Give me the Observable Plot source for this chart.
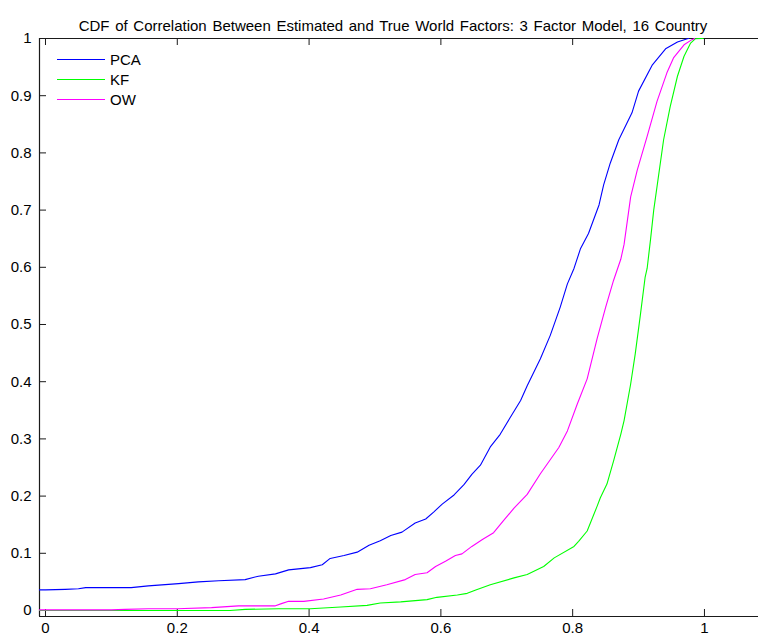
<!DOCTYPE html>
<html>
<head>
<meta charset="utf-8">
<script src="https://cdn.jsdelivr.net/npm/d3@7"></script>
<script src="https://cdn.jsdelivr.net/npm/@observablehq/plot@0.6"></script>
<style>
  body { margin: 0; background: #fff; }
  svg { display: block; }
</style>
</head>
<body>
<div id="chart"></div>
<script>
// Empirical CDFs of the correlation between estimated and true world factors
const titleText = "CDF of Correlation Between Estimated and True World Factors: 3 Factor Model, 16 Country";

const seriesNames = ["PCA", "KF", "OW"];
const seriesColors = ["#0000ff", "#00ff00", "#ff00ff"];

const xTicks = [0, 0.2, 0.4, 0.6, 0.8, 1];
const yTicks = [0, 0.1, 0.2, 0.3, 0.4, 0.5, 0.6, 0.7, 0.8, 0.9, 1];
const xDomain = [-0.0091, 1.082];
const yDomain = [-0.0105, 1];

// PCA
const pcaX = [-0.01, 0, 0.03, 0.05, 0.061, 0.13, 0.156, 0.202, 0.232, 0.263, 0.303, 0.323, 0.349, 0.369,
  0.402, 0.42, 0.432, 0.453, 0.473, 0.491, 0.508, 0.524, 0.541, 0.561, 0.577, 0.589, 0.602, 0.62,
  0.635, 0.647, 0.66, 0.675, 0.69, 0.705, 0.721, 0.731, 0.751, 0.766, 0.781, 0.792, 0.802, 0.812,
  0.824, 0.84, 0.847, 0.857, 0.87, 0.89, 0.9, 0.921, 0.941, 0.959, 0.974, 0.976];
const pcaCdf = [0.036, 0.036, 0.037, 0.038, 0.040, 0.040, 0.043, 0.047, 0.050, 0.052, 0.054, 0.060, 0.064, 0.071,
  0.075, 0.080, 0.091, 0.096, 0.102, 0.114, 0.122, 0.131, 0.137, 0.153, 0.160, 0.172, 0.186, 0.202,
  0.220, 0.238, 0.254, 0.286, 0.308, 0.337, 0.367, 0.393, 0.440, 0.481, 0.530, 0.571, 0.598, 0.633,
  0.659, 0.709, 0.744, 0.782, 0.823, 0.870, 0.908, 0.954, 0.982, 0.994, 0.9995, 1];

// KF
const kfX = [-0.01, 0.28, 0.303, 0.354, 0.402, 0.448, 0.488, 0.508, 0.539, 0.579, 0.594, 0.625, 0.64,
  0.653, 0.675, 0.711, 0.731, 0.756, 0.772, 0.802, 0.809, 0.822, 0.837, 0.842, 0.852, 0.862, 0.873,
  0.878, 0.888, 0.895, 0.903, 0.91, 0.913, 0.918, 0.923, 0.938, 0.948, 0.959, 0.969, 0.979, 0.986, 0.998];
const kfCdf = [0, 0, 0.002, 0.003, 0.003, 0.006, 0.009, 0.013, 0.015, 0.019, 0.023, 0.027, 0.030,
  0.036, 0.045, 0.057, 0.063, 0.077, 0.092, 0.112, 0.121, 0.139, 0.182, 0.197, 0.221, 0.261, 0.308,
  0.332, 0.396, 0.449, 0.519, 0.583, 0.598, 0.647, 0.700, 0.823, 0.881, 0.934, 0.969, 0.992, 0.9995, 1];

// OW
const owX = [-0.01, 0.1, 0.121, 0.156, 0.2, 0.252, 0.293, 0.348, 0.358, 0.369, 0.392, 0.422, 0.448,
  0.473, 0.493, 0.518, 0.546, 0.561, 0.579, 0.592, 0.607, 0.622, 0.632, 0.647, 0.663, 0.68, 0.695,
  0.711, 0.731, 0.751, 0.779, 0.792, 0.807, 0.822, 0.837, 0.85, 0.862, 0.873, 0.878, 0.888, 0.898,
  0.913, 0.928, 0.943, 0.953, 0.969, 0.981, 0.985];
const owCdf = [0.001, 0.001, 0.002, 0.003, 0.003, 0.005, 0.008, 0.008, 0.012, 0.016, 0.016, 0.020, 0.027,
  0.037, 0.038, 0.045, 0.054, 0.063, 0.066, 0.077, 0.086, 0.096, 0.099, 0.112, 0.124, 0.136, 0.157,
  0.179, 0.203, 0.239, 0.285, 0.314, 0.361, 0.405, 0.475, 0.530, 0.577, 0.614, 0.640, 0.723, 0.770,
  0.829, 0.890, 0.940, 0.966, 0.989, 0.998, 1];

const toRows = (xs, ys) => xs.map((x, i) => ({x, cdf: ys[i]}));
const curves = [toRows(pcaX, pcaCdf), toRows(kfX, kfCdf), toRows(owX, owCdf)];

const W = 758, H = 636;
const mTop = 38, mBottom = 20, mLeft = 39, mRight = 0;
const frameW = W - mLeft - mRight, frameH = H - mTop - mBottom;
const tickLen = 7;
const axisColor = "#1a1a1a";
const fontStack = "'Liberation Sans', Arial, Helvetica, sans-serif";

const chart = Plot.plot({
  width: W,
  height: H,
  marginTop: mTop,
  marginBottom: mBottom,
  marginLeft: mLeft,
  marginRight: mRight,
  style: {fontFamily: fontStack, fontSize: "15px", color: "#000", background: "#fff"},
  x: {domain: xDomain, ticks: xTicks, tickFormat: d3.format("~g"), tickSize: 0, tickPadding: 6, label: null},
  y: {domain: yDomain, ticks: yTicks, tickFormat: d3.format("~g"), tickSize: 0, tickPadding: 8, label: null},
  marks: [
    // inward tick marks on bottom, top and left edges
    Plot.ruleX(xTicks, {x: d => d, stroke: axisColor, insetTop: frameH - tickLen}),
    Plot.ruleX(xTicks, {x: d => d, stroke: axisColor, insetBottom: frameH - tickLen}),
    Plot.ruleY(yTicks, {y: d => d, stroke: axisColor, insetRight: frameW - tickLen}),
    // axes box (left, top, bottom)
    Plot.ruleX([xDomain[0]], {x: d => d, stroke: axisColor, strokeWidth: 1.2}),
    Plot.ruleY([yDomain[0], yDomain[1]], {y: d => d, stroke: axisColor, strokeWidth: 1.2}),
    // CDF curves
    ...curves.map((rows, i) => Plot.line(rows, {x: "x", y: "cdf", stroke: seriesColors[i], strokeWidth: 1.1, clip: true})),
    // title
    Plot.text([titleText], {text: d => d, frameAnchor: "top", dy: -18, dx: -6, fontSize: 15, fill: "#000"})
  ]
});

const svg = d3.select(chart);

// widen the gaps between title words
svg.selectAll("text").filter(function() { return this.textContent === titleText; })
  .attr("word-spacing", "1.5px");

// legend (top-left, no box)
const legend = svg.append("g")
  .attr("font-size", 15)
  .attr("font-family", fontStack)
  .attr("text-anchor", "start");
seriesNames.forEach((name, i) => {
  const yy = 59.5 + 20 * i;
  legend.append("line")
    .attr("x1", 57).attr("x2", 105).attr("y1", yy).attr("y2", yy)
    .attr("stroke", seriesColors[i]).attr("stroke-width", 1.1);
  legend.append("text")
    .attr("x", 110).attr("y", yy).attr("dy", "0.35em")
    .attr("fill", "#000").text(name);
});

document.getElementById("chart").appendChild(chart);
</script>
</body>
</html>
